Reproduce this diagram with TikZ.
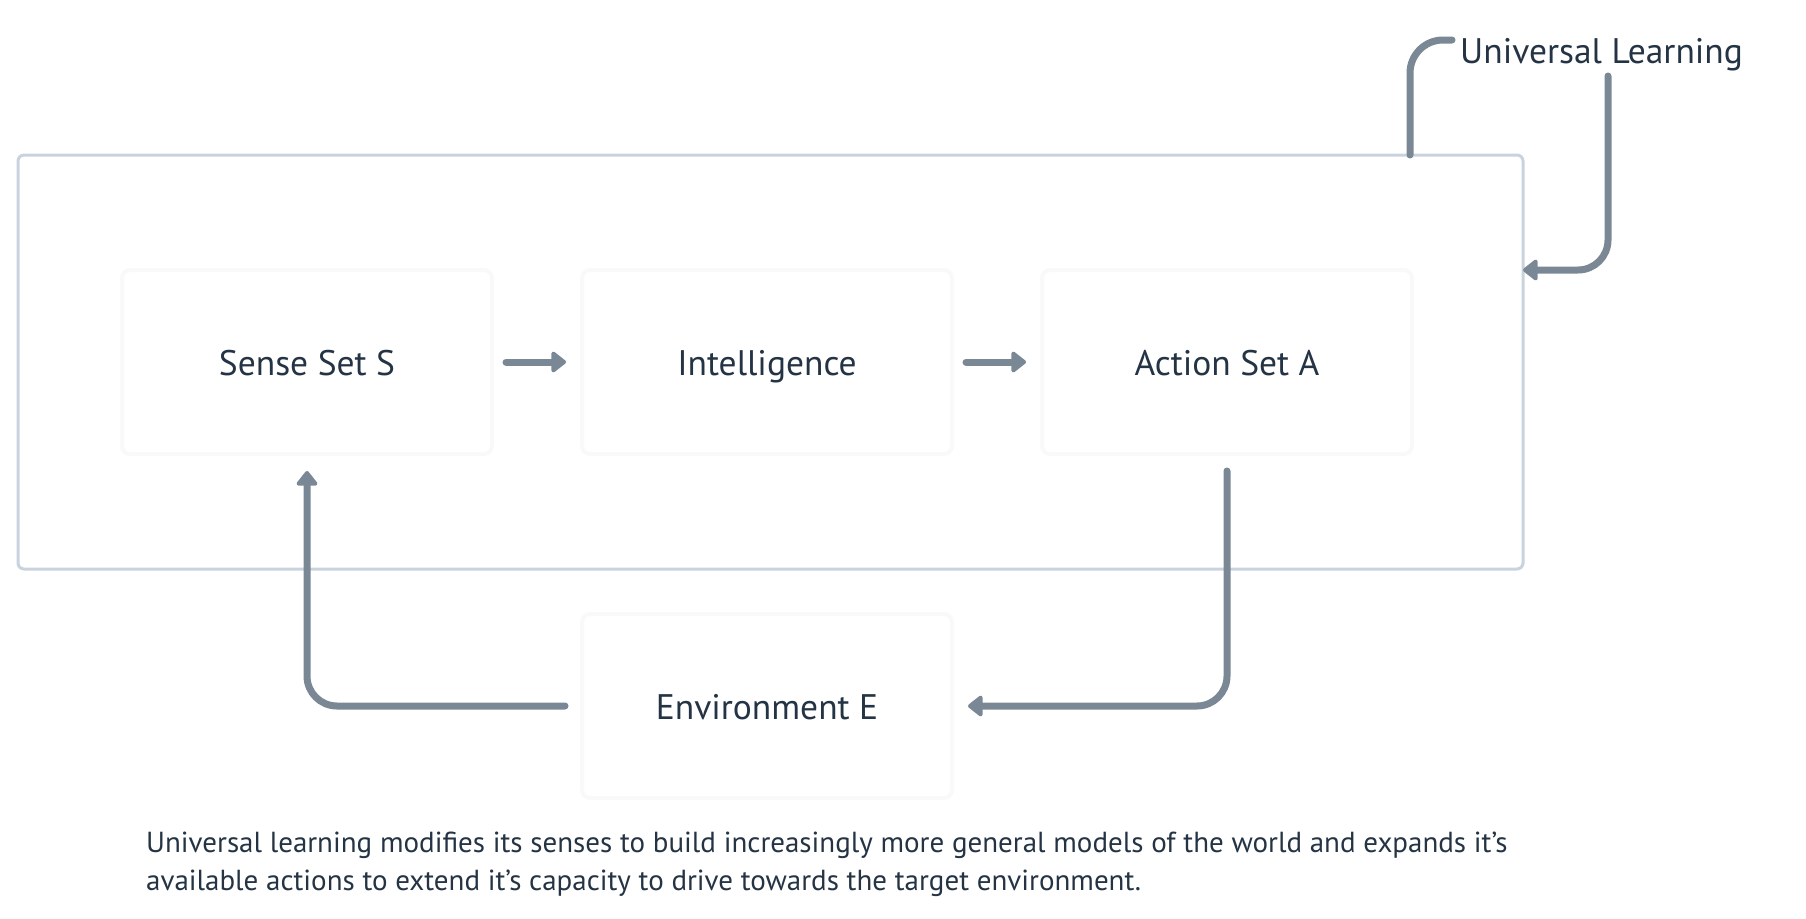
\documentclass[tikz,border=0pt]{standalone}
\usepackage{fontspec}
\setmainfont{PT Sans}
\usetikzlibrary{arrows.meta}
\definecolor{linec}{RGB}{122,136,150}
\definecolor{framec}{RGB}{200,211,222}
\definecolor{textc}{RGB}{36,52,68}
\definecolor{boxedge}{RGB}{249,249,249}
\tikzset{
  stagebox/.style={draw=boxedge, line width=4pt, fill=white, rounded corners=8pt,
    minimum width=370pt, minimum height=184pt, text=textc,
    text height=30pt, text depth=3pt,
    font=\fontsize{35.5}{42}\selectfont},
  flow/.style={draw=linec, line width=7pt, line cap=round, rounded corners=30pt,
    -{Triangle[width=24pt,length=16pt,round]}},
  plainflow/.style={draw=linec, line width=7pt, line cap=round, rounded corners=33pt},
  framebox/.style={draw=framec, line width=3pt, rounded corners=6pt,
    minimum width=1505pt, minimum height=414pt},
}
\begin{document}
\begin{tikzpicture}[x=1pt,y=-1pt]
\useasboundingbox (0,0) rectangle (1806,918);
\node[framebox] (frame) at (770.5,362) {};
\node[stagebox] (S) at (307,362) {Sense Set S};
\node[stagebox] (I) at (767,362) {Intelligence};
\node[stagebox] (A) at (1227,362) {Action Set A};
\node[stagebox] (E) at (767,706) {Environment E};
\node[text=textc, font=\fontsize{35.5}{42}\selectfont, anchor=base west, inner sep=0pt] (UL) at (1460,63) {Universal Learning};
\node[text=textc, font=\fontsize{29}{38}\selectfont, anchor=base west, inner sep=0pt, align=left] (cap) at (146,890)
  {Universal learning modifies its senses to build increasingly more general models of the world and expands it’s\\available actions to extend it’s capacity to drive towards the target environment.};
\coordinate (ulA) at (1410,155);
\coordinate (ulB) at (1452,40);
\coordinate (urA) at (1608,76);
\coordinate (urB) at (1523,270);
\draw[flow, shorten <=12pt, shorten >=14pt] (S) -- (I);
\draw[flow, shorten <=12pt, shorten >=14pt] (I) -- (A);
\draw[flow, shorten <=15pt, shorten >=14pt] (A.south) |- (E.east);
\draw[flow, shorten <=15pt, shorten >=15pt] (E.west) -| (S.south);
\draw[plainflow] (ulA) |- (ulB);
\draw[flow] (urA) |- (urB);
\end{tikzpicture}
\end{document}
